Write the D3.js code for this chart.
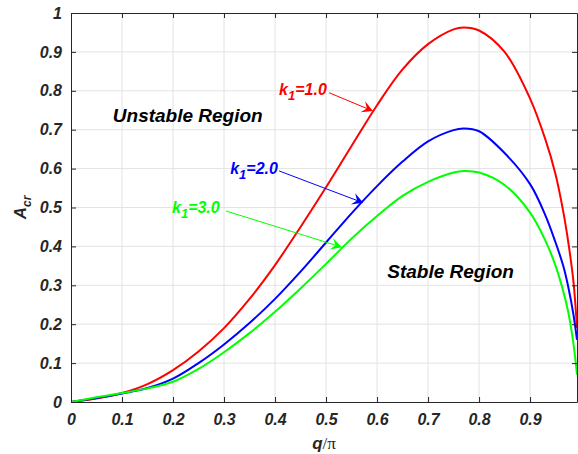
<!DOCTYPE html>
<html>
<head>
<meta charset="utf-8">
<script src="https://cdn.jsdelivr.net/npm/d3@7"></script>
<style>
body { margin: 0; background: #fff; }
text { font-family: "Liberation Sans", Arial, Helvetica, sans-serif; }
</style>
</head>
<body>
<svg width="578" height="454"></svg>
<script>
// values
var qVals = [0, 0.05, 0.1, 0.15, 0.2, 0.25, 0.3, 0.35, 0.4, 0.45, 0.5, 0.55, 0.6, 0.65, 0.7, 0.75, 0.77, 0.8, 0.85, 0.9, 0.93, 0.95, 0.965, 0.975, 0.985, 0.992]
var k1Vals = [0, 0.009, 0.023, 0.046, 0.082, 0.13, 0.19, 0.265, 0.352, 0.45, 0.552, 0.658, 0.763, 0.855, 0.92, 0.958, 0.963, 0.955, 0.9, 0.78, 0.675, 0.585, 0.49, 0.41, 0.31, 0.19]
var k2Vals = [0, 0.01, 0.022, 0.036, 0.06, 0.1, 0.148, 0.203, 0.265, 0.335, 0.41, 0.485, 0.555, 0.618, 0.67, 0.699, 0.703, 0.696, 0.64, 0.56, 0.48, 0.41, 0.35, 0.295, 0.225, 0.16]
var k3Vals = [0, 0.012, 0.023, 0.035, 0.052, 0.085, 0.128, 0.177, 0.232, 0.292, 0.355, 0.42, 0.478, 0.53, 0.566, 0.59, 0.594, 0.59, 0.558, 0.487, 0.415, 0.35, 0.285, 0.23, 0.15, 0.07]
var seriesNames = ["1.0", "2.0", "3.0"]
var seriesColors = ["#ff0000", "#0000ff", "#00ff00"]
var xTicks = [0, 0.1, 0.2, 0.3, 0.4, 0.5, 0.6, 0.7, 0.8, 0.9]
var yTicks = [0, 0.1, 0.2, 0.3, 0.4, 0.5, 0.6, 0.7, 0.8, 0.9, 1]
// annotation: label position, arrow start, arrow tip (data coords)
var labelAt = [[0.408, 0.789], [0.312, 0.586], [0.198, 0.486]]
var arrowFrom = [[0.506, 0.795], [0.408, 0.594], [0.304, 0.491]]
var arrowTo = [[0.592, 0.748], [0.573, 0.512], [0.531, 0.398]]

var padL = 71, padR = 577, padT = 13, padB = 402
var svg = d3.select("svg")

var x = d3.scaleLinear().domain([0, 0.992]).range([padL, padR])
var y = d3.scaleLinear().domain([0, 1]).range([padB, padT])

// grid
svg.append("g").selectAll("line").data(xTicks.slice(1)).enter().append("line")
  .attr("x1", d => x(d)).attr("x2", d => x(d)).attr("y1", padT).attr("y2", padB)
  .attr("stroke", "#e3e3e3").attr("stroke-width", 1)
svg.append("g").selectAll("line").data(yTicks.slice(1, -1)).enter().append("line")
  .attr("x1", padL).attr("x2", padR).attr("y1", d => y(d)).attr("y2", d => y(d))
  .attr("stroke", "#e3e3e3").attr("stroke-width", 1)

// curves
svg.append("clipPath").attr("id", "clip").append("rect")
  .attr("x", padL).attr("y", padT).attr("width", padR - padL).attr("height", padB - padT)

var allVals = [k1Vals, k2Vals, k3Vals]
var line = d3.line().x(d => x(d[0])).y(d => y(d[1])).curve(d3.curveCatmullRom.alpha(0.5))
svg.append("g").attr("clip-path", "url(#clip)")
  .selectAll("path").data(allVals).enter().append("path")
  .attr("d", vals => line(qVals.map((q, i) => [q, vals[i]])))
  .attr("fill", "none")
  .attr("stroke", (d, i) => seriesColors[i])
  .attr("stroke-width", 2)

// axes
var axisColor = "#262626"
function styleAxis(g) {
  g.selectAll("path").attr("stroke", axisColor)
  g.selectAll("line").attr("stroke", axisColor)
  g.selectAll("text").attr("fill", axisColor)
    .style("font-size", "16px").style("font-weight", "bold").style("font-style", "italic")
}
var fmt = d => d === 0 ? "0" : d === 1 ? "1" : d3.format(".1f")(d)

svg.append("g").attr("transform", `translate(0,${padB})`)
  .call(d3.axisBottom(x).tickValues(xTicks).tickFormat(fmt).tickSizeInner(-5).tickSizeOuter(0).tickPadding(12))
  .call(styleAxis)
svg.append("g").attr("transform", `translate(0,${padT})`)
  .call(d3.axisTop(x).tickValues(xTicks.slice(1)).tickFormat("").tickSizeInner(-5).tickSizeOuter(0))
  .call(styleAxis)
svg.append("g").attr("transform", `translate(${padL},0)`)
  .call(d3.axisLeft(y).tickValues(yTicks).tickFormat(fmt).tickSizeInner(-5).tickSizeOuter(0).tickPadding(9))
  .call(styleAxis)
svg.append("g").attr("transform", `translate(${padR},0)`)
  .call(d3.axisRight(y).tickValues(yTicks.slice(1, -1)).tickFormat("").tickSizeInner(-5).tickSizeOuter(0))
  .call(styleAxis)

// axis labels
var xl = svg.append("text").attr("x", (padL + padR) / 2).attr("y", 449)
  .attr("text-anchor", "middle").attr("fill", axisColor).style("font-size", "17px")
xl.append("tspan").text("q").style("font-weight", "bold").style("font-style", "italic")
xl.append("tspan").text("/π").style("font-family", "'Liberation Serif', serif")

var yl = svg.append("text").attr("transform", `translate(26,${(padT + padB) / 2}) rotate(-90)`)
  .attr("text-anchor", "middle").attr("fill", axisColor)
  .style("font-size", "17px").style("font-weight", "bold").style("font-style", "italic")
yl.append("tspan").text("A")
yl.append("tspan").text("cr").attr("dy", 5).style("font-size", "12px")

// region labels
svg.append("text").attr("x", x(0.082)).attr("y", y(0.72)).text("Unstable Region")
  .attr("fill", "#000").style("font-size", "19px").style("font-weight", "bold").style("font-style", "italic")
svg.append("text").attr("x", x(0.62)).attr("y", y(0.318)).text("Stable Region")
  .attr("fill", "#000").style("font-size", "19px").style("font-weight", "bold").style("font-style", "italic")

// k1 annotations
seriesNames.forEach(function (name, i) {
  var c = seriesColors[i]
  var t = svg.append("text").attr("x", x(labelAt[i][0])).attr("y", y(labelAt[i][1]))
    .attr("fill", c).style("font-size", "16px").style("font-weight", "bold").style("font-style", "italic")
  t.append("tspan").text("k")
  t.append("tspan").text("1").attr("dy", 5).style("font-size", "13px")
  t.append("tspan").text("=" + name).attr("dy", -5)

  var x0 = x(arrowFrom[i][0]), y0 = y(arrowFrom[i][1])
  var x1 = x(arrowTo[i][0]), y1 = y(arrowTo[i][1])
  var ang = Math.atan2(y1 - y0, x1 - x0)
  var L = 11, W = 6
  svg.append("line").attr("x1", x0).attr("y1", y0)
    .attr("x2", x1 - Math.cos(ang) * 6).attr("y2", y1 - Math.sin(ang) * 6)
    .attr("stroke", c).attr("stroke-width", 1)
  svg.append("path")
    .attr("d", `M0,0 L${-L},${-W} L${-L * 0.6},0 L${-L},${W} Z`)
    .attr("transform", `translate(${x1},${y1}) rotate(${ang * 180 / Math.PI})`)
    .attr("fill", c)
})
</script>
</body>
</html>
